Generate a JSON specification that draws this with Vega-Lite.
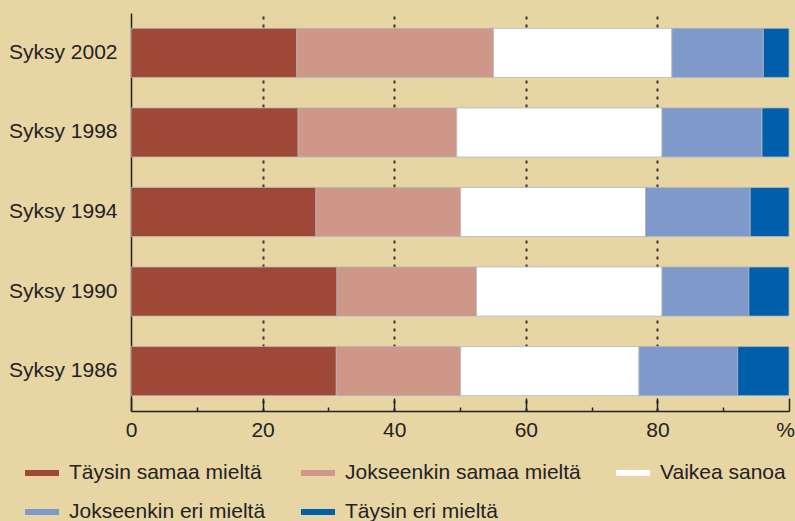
{
  "$schema": "https://vega.github.io/schema/vega-lite/v6.json",
  "width": 658,
  "height": 398,
  "autosize": {"type": "none"},
  "padding": {"left": 131, "top": 13, "right": 6, "bottom": 110},
  "background": "#E8D5A4",
  "data": {
    "values": [
      {"v": "Syksy 2002", "c": "Täysin samaa mieltä", "p": 25.2},
      {"v": "Syksy 2002", "c": "Jokseenkin samaa mieltä", "p": 29.9},
      {"v": "Syksy 2002", "c": "Vaikea sanoa", "p": 27.1},
      {"v": "Syksy 2002", "c": "Jokseenkin eri mieltä", "p": 13.9},
      {"v": "Syksy 2002", "c": "Täysin eri mieltä", "p": 3.9},
      {"v": "Syksy 1998", "c": "Täysin samaa mieltä", "p": 25.4},
      {"v": "Syksy 1998", "c": "Jokseenkin samaa mieltä", "p": 24.1},
      {"v": "Syksy 1998", "c": "Vaikea sanoa", "p": 31.2},
      {"v": "Syksy 1998", "c": "Jokseenkin eri mieltä", "p": 15.2},
      {"v": "Syksy 1998", "c": "Täysin eri mieltä", "p": 4.1},
      {"v": "Syksy 1994", "c": "Täysin samaa mieltä", "p": 28.1},
      {"v": "Syksy 1994", "c": "Jokseenkin samaa mieltä", "p": 22.0},
      {"v": "Syksy 1994", "c": "Vaikea sanoa", "p": 28.1},
      {"v": "Syksy 1994", "c": "Jokseenkin eri mieltä", "p": 15.9},
      {"v": "Syksy 1994", "c": "Täysin eri mieltä", "p": 5.9},
      {"v": "Syksy 1990", "c": "Täysin samaa mieltä", "p": 31.3},
      {"v": "Syksy 1990", "c": "Jokseenkin samaa mieltä", "p": 21.2},
      {"v": "Syksy 1990", "c": "Vaikea sanoa", "p": 28.2},
      {"v": "Syksy 1990", "c": "Jokseenkin eri mieltä", "p": 13.2},
      {"v": "Syksy 1990", "c": "Täysin eri mieltä", "p": 6.1},
      {"v": "Syksy 1986", "c": "Täysin samaa mieltä", "p": 31.2},
      {"v": "Syksy 1986", "c": "Jokseenkin samaa mieltä", "p": 18.9},
      {"v": "Syksy 1986", "c": "Vaikea sanoa", "p": 27.1},
      {"v": "Syksy 1986", "c": "Jokseenkin eri mieltä", "p": 15.0},
      {"v": "Syksy 1986", "c": "Täysin eri mieltä", "p": 7.8}
    ]
  },
  "transform": [
    {"calculate": "indexof(['Täysin samaa mieltä', 'Jokseenkin samaa mieltä', 'Vaikea sanoa', 'Jokseenkin eri mieltä', 'Täysin eri mieltä'], datum.c)", "as": "ord"}
  ],
  "mark": {"type": "bar", "stroke": "#AEB7C2", "strokeWidth": 0.8},
  "encoding": {
    "y": {
      "field": "v",
      "type": "nominal",
      "sort": ["Syksy 2002", "Syksy 1998", "Syksy 1994", "Syksy 1990", "Syksy 1986"],
      "scale": {"paddingInner": 0.383, "paddingOuter": 0.193},
      "axis": {
        "title": null,
        "ticks": false,
        "domainColor": "#222222",
        "domainWidth": 1.5,
        "labelFont": "Liberation Sans",
        "labelFontSize": 21,
        "labelColor": "#222222",
        "labelPadding": 14
      }
    },
    "x": {
      "field": "p",
      "type": "quantitative",
      "stack": "zero",
      "scale": {"domain": [0, 100], "nice": false},
      "axis": {
        "title": null,
        "values": [0, 10, 20, 30, 40, 50, 60, 70, 80, 90, 100],
        "labelExpr": "datum.value % 20 === 0 ? (datum.value === 100 ? '%' : datum.label) : ''",
        "labelFlush": false,
        "labelFont": "Liberation Sans",
        "labelFontSize": 21,
        "labelColor": "#222222",
        "labelPadding": 21,
        "labelOffset": {"condition": {"test": "datum.value === 100", "value": -4}, "value": 0},
        "domainColor": "#222222",
        "domainWidth": 1.5,
        "tickColor": "#222222",
        "tickWidth": 1.5,
        "tickSize": {"condition": {"test": "datum.value % 20 === 10", "value": -4}, "value": -13},
        "grid": true,
        "gridColor": "#333333",
        "gridWidth": 2,
        "gridDash": [3, 5],
        "gridOpacity": {"condition": {"test": "datum.value % 20 === 0 && datum.value > 0 && datum.value < 100", "value": 1}, "value": 0}
      }
    },
    "order": {"field": "ord", "type": "quantitative", "sort": "ascending"},
    "color": {
      "field": "c",
      "type": "nominal",
      "sort": ["Täysin samaa mieltä", "Jokseenkin samaa mieltä", "Vaikea sanoa", "Jokseenkin eri mieltä", "Täysin eri mieltä"],
      "scale": {
        "domain": ["Täysin samaa mieltä", "Jokseenkin samaa mieltä", "Vaikea sanoa", "Jokseenkin eri mieltä", "Täysin eri mieltä"],
        "range": ["#A04837", "#CE9787", "#FFFFFF", "#7F99CB", "#005FAA"]
      },
      "legend": {
        "title": null,
        "orient": "none",
        "legendX": -106,
        "legendY": 443,
        "direction": "horizontal",
        "columns": 3,
        "columnPadding": 35,
        "rowPadding": 12,
        "padding": 0,
        "symbolType": "M-1,-0.176L1,-0.176L1,0.176L-1,0.176Z",
        "symbolSize": 1156,
        "symbolStrokeWidth": 0,
        "labelOffset": 10,
        "labelFont": "Liberation Sans",
        "labelFontSize": 21,
        "labelColor": "#222222",
        "labelLimit": 400
      }
    }
  },
  "config": {"view": {"stroke": null}}
}
